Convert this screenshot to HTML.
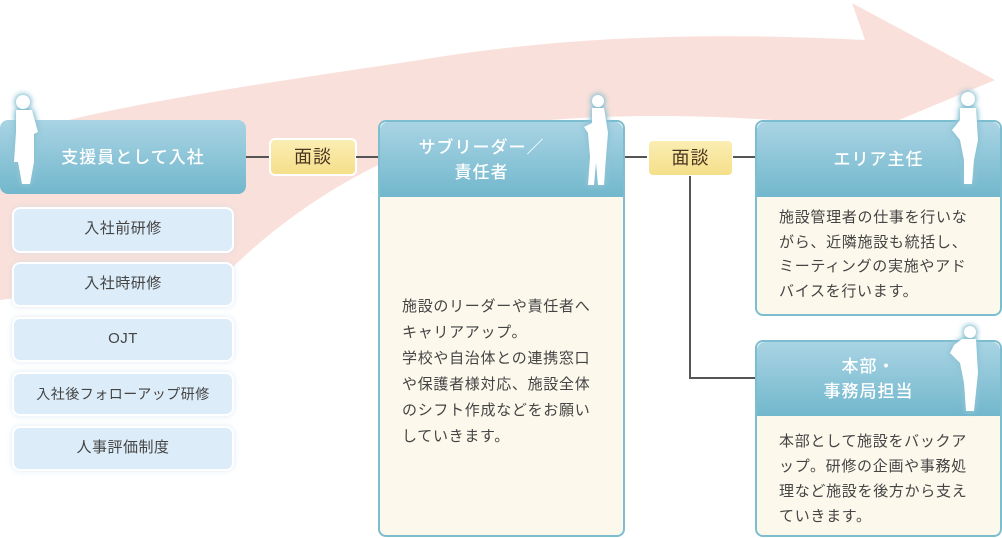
<!DOCTYPE html>
<html><head><meta charset="utf-8">
<style>
body{margin:0;width:1002px;height:538px;position:relative;overflow:hidden;background:#fff;font-family:"Liberation Sans","Noto Sans CJK JP",sans-serif;}
.a{position:absolute;box-sizing:border-box;}
.hd{background:linear-gradient(#a9d4e4,#72b7cc);color:#fff;font-size:17px;font-weight:500;display:flex;align-items:center;justify-content:center;text-align:center;line-height:25px;letter-spacing:1px;border-radius:8px 8px 0 0;}
.card{border:2px solid #7cbdd0;border-radius:8px;background:#fcf9ec;overflow:hidden;}
.body{color:#444;font-size:15px;letter-spacing:0.7px;line-height:26px;}
.sub{background:#dcecf8;border:2px solid #fff;border-radius:8px;color:#444;font-size:15px;text-align:center;line-height:40px;letter-spacing:0.5px;box-shadow:0 0 6px rgba(200,220,235,.6);}
.mi{background:linear-gradient(#fbeeb3,#f5df8a);border:2px solid #fff;border-radius:6px;color:#4a3520;font-size:18px;text-align:center;line-height:34px;letter-spacing:1px;}
.ln{background:#555;}
.fig{filter:drop-shadow(0 0 3px #7fbdd0) drop-shadow(0 0 2px #9cc9d8);}
</style></head><body>
<svg class="a" style="left:0;top:0" width="1002" height="538">
<path d="M0,140 C80,110 250,85 420,60 C600,30 760,35 865,40 L852,3 L995,80 L875,130 C760,115 620,110 500,125 C380,145 280,220 230,270 L0,300 Z" fill="#fae0da"/>
</svg>
<div class="a hd" style="left:0;top:120px;width:246px;height:74px;border-radius:8px;padding-left:20px">支援員として入社</div>
<svg class="a fig" style="left:8px;top:92px" width="34" height="96"><circle cx="15" cy="10" r="7" fill="#fff"/><path d="M8,18 L24,18 L30,40 L26,42 L26,70 L22,92 L14,92 L10,70 L6,70 L8,40 Z" fill="#fff"/></svg>
<div class="a sub" style="left:12px;top:207px;width:222px;height:46px">入社前研修</div>
<div class="a sub" style="left:12px;top:262px;width:222px;height:45px">入社時研修</div>
<div class="a sub" style="left:12px;top:317px;width:222px;height:45px">OJT</div>
<div class="a sub" style="left:12px;top:372px;width:222px;height:44px;font-size:14px">入社後フォローアップ研修</div>
<div class="a sub" style="left:12px;top:426px;width:222px;height:45px">人事評価制度</div>
<div class="a ln" style="left:246px;top:156px;width:24px;height:2px"></div>
<div class="a mi" style="left:269px;top:138px;width:88px;height:38px">面談</div>
<div class="a ln" style="left:356px;top:156px;width:24px;height:2px"></div>
<div class="a card" style="left:378px;top:120px;width:247px;height:417px">
<div class="a hd" style="left:0;top:0;width:243px;height:75px;padding-right:40px">サブリーダー／<br>責任者</div>
<div class="a body" style="left:22px;top:172px;width:196px">施設のリーダーや責任者へキャリアアップ。<br>学校や自治体との連携窓口や保護者様対応、施設全体のシフト作成などをお願いしていきます。</div>
</div>
<svg class="a fig" style="left:582px;top:93px" width="32" height="96"><circle cx="16" cy="8" r="6" fill="#fff"/><path d="M10,15 L22,15 L26,40 L24,64 L22,92 L16,92 L14,70 L12,92 L6,92 L8,64 L6,40 L2,34 L10,30 Z" fill="#fff"/></svg>
<div class="a ln" style="left:625px;top:156px;width:24px;height:2px"></div>
<div class="a mi" style="left:647px;top:139px;width:87px;height:38px">面談</div>
<div class="a ln" style="left:733px;top:156px;width:24px;height:2px"></div>
<div class="a ln" style="left:689px;top:176px;width:2px;height:203px"></div>
<div class="a ln" style="left:689px;top:377px;width:66px;height:2px"></div>
<div class="a card" style="left:755px;top:120px;width:247px;height:196px">
<div class="a hd" style="left:0;top:0;width:243px;height:75px">エリア主任</div>
<div class="a body" style="left:22px;top:84px;width:196px;line-height:24.5px">施設管理者の仕事を行いながら、近隣施設も統括し、ミーティングの実施やアドバイスを行います。</div>
</div>
<svg class="a fig" style="left:950px;top:90px" width="30" height="96"><circle cx="18" cy="9" r="7" fill="#fff"/><path d="M10,18 L26,18 L28,50 L24,70 L22,94 L14,94 L14,70 L10,50 L2,40 L10,30 Z" fill="#fff"/></svg>
<div class="a card" style="left:755px;top:340px;width:247px;height:197px">
<div class="a hd" style="left:0;top:0;width:243px;height:74px;padding-right:20px">本部・<br>事務局担当</div>
<div class="a body" style="left:22px;top:87px;width:196px;line-height:25px">本部として施設をバックアップ。研修の企画や事務処理など施設を後方から支えていきます。</div>
</div>
<svg class="a fig" style="left:948px;top:323px" width="34" height="90"><circle cx="22" cy="9" r="6" fill="#fff"/><path d="M14,16 L28,16 L30,50 L26,88 L18,88 L16,60 L12,40 L2,30 L6,22 Z" fill="#fff"/></svg>
</body></html>
